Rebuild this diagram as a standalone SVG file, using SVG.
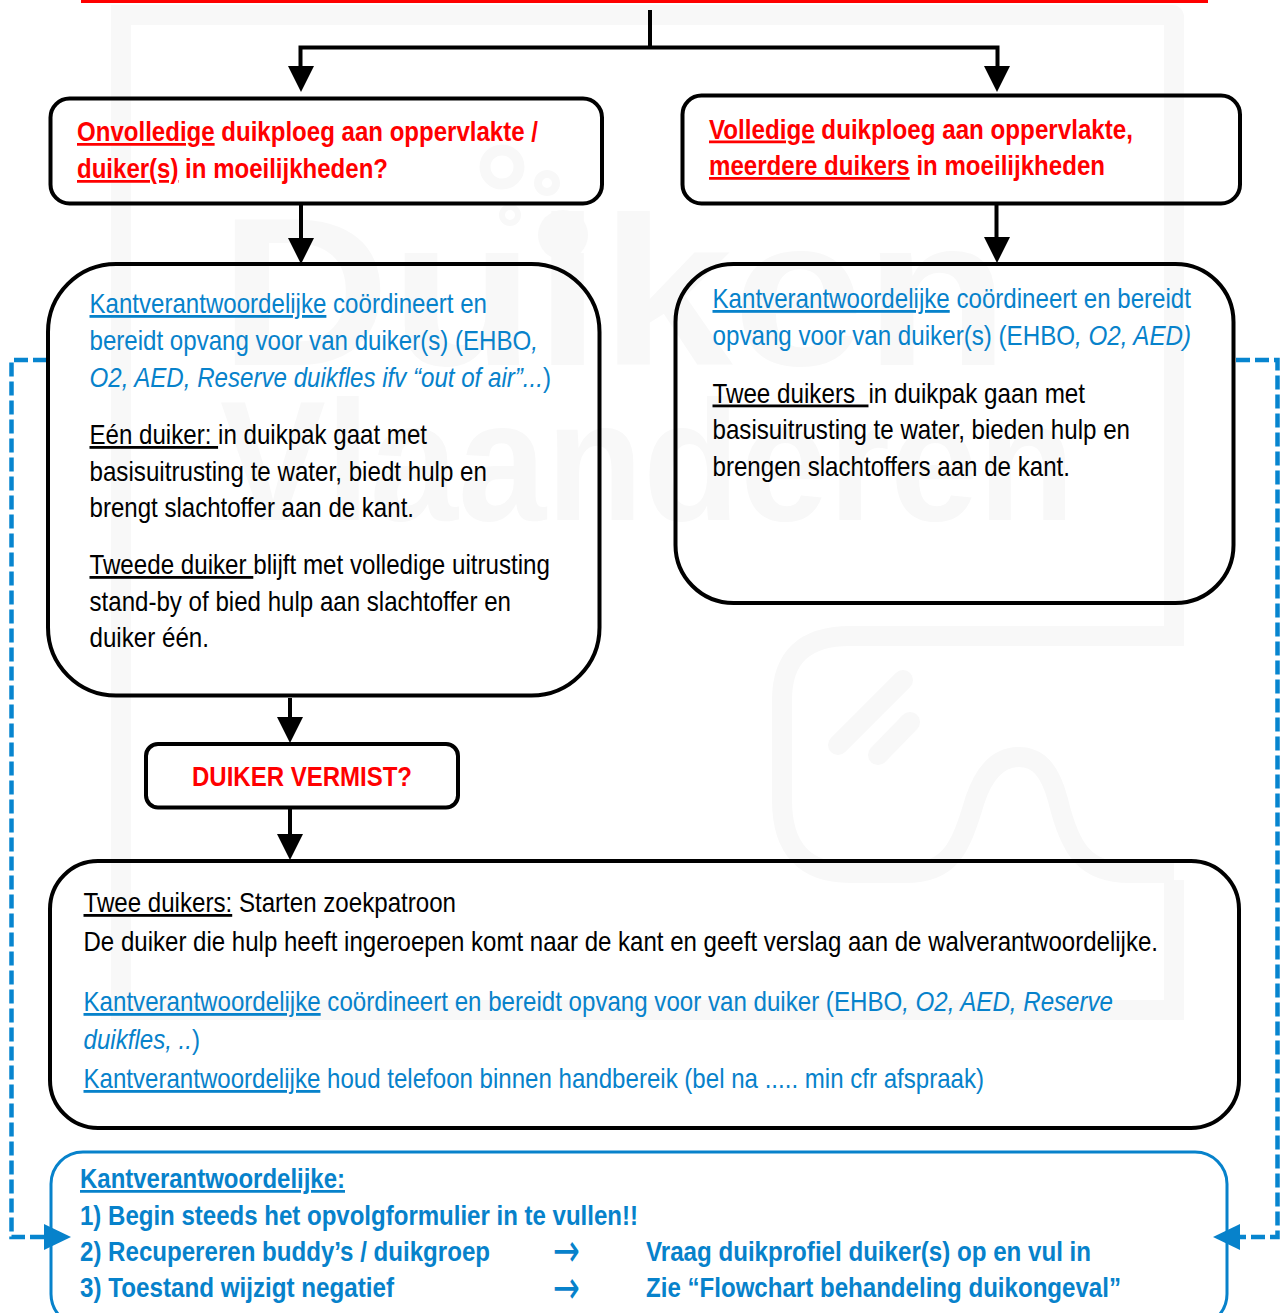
<svg xmlns="http://www.w3.org/2000/svg" width="1280" height="1313" viewBox="0 0 1280 1313">
<style>
text{font-family:"Liberation Sans",Arial,sans-serif;font-size:28px;white-space:pre}
.b{font-weight:700;font-size:27.5px}
.red{fill:#f00}
.blue{fill:#0782cb}
.blk{fill:#000}
.u{text-decoration:underline;text-decoration-thickness:2.5px}
.i{font-style:italic}
.box{fill:none;stroke:#000;stroke-width:4}
.wm{fill:none;stroke:#f8f8f8;stroke-width:20}
.wt{fill:#f8f8f8;font-size:212px;font-weight:700}
.wv{font-size:170px}
.c1{stroke-width:11}
.c2{stroke-width:8}
.c3{stroke-width:6}
.con{fill:none;stroke:#000;stroke-width:4}
.dash{fill:none;stroke:#0785cf;stroke-width:4.500;stroke-dasharray:14 5}
.ar{font-family:"DejaVu Sans",sans-serif;font-size:46px}
</style>
<defs>
<polygon id="ah" points="-13,-26 13,-26 0,0" fill="#000"/>
</defs>
<rect width="1280" height="1313" fill="#fff"/>
<g id="watermark">
<path class="wm" d="M850 636H1174V17Q1174 15 1172 15H121V1010H1174V880"/>
<path class="wm" d="M850 636Q782 636 782 700V800Q782 873 850 873H905C950 873 960 850 975 800C985 770 1000 757 1019 757C1038 757 1050 770 1058 800C1070 850 1085 873 1130 873H1174"/>
<path class="wm" d="M903 680L838 745M910 722L878 755" stroke-linecap="round"/>
<circle class="wm c1" cx="502" cy="167" r="17"/>
<circle class="wm c2" cx="547" cy="183" r="9"/>
<circle class="wm c3" cx="510" cy="215" r="8"/>
<circle cx="563" cy="235" r="25" fill="#f8f8f8"/>
<text class="wt" x="219" y="365" textLength="790" lengthAdjust="spacingAndGlyphs">Duiken</text>
<text class="wt wv" x="220" y="520" textLength="855" lengthAdjust="spacingAndGlyphs">Vlaanderen</text>
</g>
<rect id="topbar" x="81" y="0" width="1127" height="3" fill="#f00"/>
<g id="connectors">
<path class="con" d="M650 10V49M300.500 68V47.500H997.500V68"/>
<use href="#ah" x="301" y="92"/><use href="#ah" x="997" y="92"/>
<path class="con" d="M301 205V240M996.500 205V240M290 698V720M290 809V836"/>
<use href="#ah" x="301" y="264"/><use href="#ah" x="997" y="263"/>
<use href="#ah" x="290" y="743"/><use href="#ah" x="290" y="860"/>
<path class="dash" d="M47 360H11.500V1237H46"/>
<path class="dash" d="M1236 360H1277.500V1237H1238"/>
<polygon points="44,1224 71,1237 44,1250" fill="#0782cb"/>
<polygon points="1240,1224 1213,1237 1240,1250" fill="#0782cb"/>
</g>
<g id="n1">
<rect class="box" x="50.500" y="98.500" width="551.500" height="105" rx="19"/>
<text class="b red" x="77" y="141" textLength="461" lengthAdjust="spacingAndGlyphs"><tspan class="u">Onvolledige</tspan> duikploeg aan oppervlakte /</text>
<text class="b red" x="77" y="178" textLength="311" lengthAdjust="spacingAndGlyphs"><tspan class="u">duiker(s)</tspan> in moeilijkheden?</text>
</g>
<g id="n2">
<rect class="box" x="682.500" y="95.500" width="557.500" height="108" rx="19"/>
<text class="b red" x="709" y="138.500" textLength="424" lengthAdjust="spacingAndGlyphs"><tspan class="u">Volledige</tspan> duikploeg aan oppervlakte,</text>
<text class="b red" x="709" y="175" textLength="396" lengthAdjust="spacingAndGlyphs"><tspan class="u">meerdere duikers</tspan> in moeilijkheden</text>
</g>
<g id="n3">
<rect class="box" x="48" y="264" width="551.500" height="431.500" rx="68"/>
<text class="blue" x="89.500" y="313" textLength="397.500" lengthAdjust="spacingAndGlyphs"><tspan class="u">Kantverantwoordelijke</tspan> coördineert en</text>
<text class="blue" x="89.500" y="350" textLength="448.500" lengthAdjust="spacingAndGlyphs">bereidt opvang voor van duiker(s) (EHBO<tspan class="i">,</tspan></text>
<text class="blue" x="89.500" y="387" textLength="461.500" lengthAdjust="spacingAndGlyphs"><tspan class="i">O2, AED, Reserve duikfles ifv “out of air”...</tspan>)</text>
<text class="blk" x="89.500" y="444" textLength="337.500" lengthAdjust="spacingAndGlyphs"><tspan class="u">Eén duiker: </tspan>in duikpak gaat met</text>
<text class="blk" x="89.500" y="480.500" textLength="397.500" lengthAdjust="spacingAndGlyphs">basisuitrusting te water, biedt hulp en</text>
<text class="blk" x="89.500" y="517" textLength="324.500" lengthAdjust="spacingAndGlyphs">brengt slachtoffer aan de kant.</text>
<text class="blk" x="89.500" y="574" textLength="460.500" lengthAdjust="spacingAndGlyphs"><tspan class="u">Tweede duiker </tspan>blijft met volledige uitrusting</text>
<text class="blk" x="89.500" y="610.500" textLength="421.500" lengthAdjust="spacingAndGlyphs">stand-by of bied hulp aan slachtoffer en</text>
<text class="blk" x="89.500" y="647" textLength="119.500" lengthAdjust="spacingAndGlyphs">duiker één.</text>
</g>
<g id="n4">
<rect class="box" x="675.500" y="264" width="558" height="339" rx="58"/>
<text class="blue" x="712.500" y="308" textLength="478.500" lengthAdjust="spacingAndGlyphs"><tspan class="u">Kantverantwoordelijke</tspan> coördineert en bereidt</text>
<text class="blue" x="712.500" y="345" textLength="478.500" lengthAdjust="spacingAndGlyphs">opvang voor van duiker(s) (EHBO<tspan class="i">, O2, AED)</tspan></text>
<text class="blk" x="712.500" y="402.500" textLength="372.500" lengthAdjust="spacingAndGlyphs"><tspan class="u">Twee duikers&#160; </tspan>in duikpak gaan met</text>
<text class="blk" x="712.500" y="439" textLength="417.500" lengthAdjust="spacingAndGlyphs">basisuitrusting te water, bieden hulp en</text>
<text class="blk" x="712.500" y="476" textLength="357.500" lengthAdjust="spacingAndGlyphs">brengen slachtoffers aan de kant.</text>
</g>
<g id="n5">
<rect class="box" x="146" y="744" width="312" height="63.500" rx="12"/>
<text class="b red" x="192" y="785.500" textLength="220" lengthAdjust="spacingAndGlyphs">DUIKER VERMIST?</text>
</g>
<g id="n6">
<rect class="box" x="50" y="861" width="1189" height="267" rx="48"/>
<text class="blk" x="83.500" y="912" textLength="372.500" lengthAdjust="spacingAndGlyphs"><tspan class="u">Twee duikers:</tspan> Starten zoekpatroon</text>
<text class="blk" x="83.500" y="951" textLength="1074.500" lengthAdjust="spacingAndGlyphs">De duiker die hulp heeft ingeroepen komt naar de kant en geeft verslag aan de walverantwoordelijke.</text>
<text class="blue" x="83.500" y="1011" textLength="1029.500" lengthAdjust="spacingAndGlyphs"><tspan class="u">Kantverantwoordelijke</tspan> coördineert en bereidt opvang voor van duiker (EHBO<tspan class="i">, O2, AED, Reserve</tspan></text>
<text class="blue" x="83.500" y="1049" textLength="116.500" lengthAdjust="spacingAndGlyphs"><tspan class="i">duikfles, ..</tspan>)</text>
<text class="blue" x="83.500" y="1088" textLength="900.500" lengthAdjust="spacingAndGlyphs"><tspan class="u">Kantverantwoordelijke</tspan> houd telefoon binnen handbereik (bel na ..... min cfr afspraak)</text>
</g>
<g id="n7">
<rect x="51" y="1152" width="1176" height="174" rx="32" fill="none" stroke="#0782cb" stroke-width="3"/>
<text class="b blue u" x="80" y="1188" textLength="265" lengthAdjust="spacingAndGlyphs">Kantverantwoordelijke:</text>
<text class="b blue" x="80" y="1224.500" textLength="558" lengthAdjust="spacingAndGlyphs">1) Begin steeds het opvolgformulier in te vullen!!</text>
<text class="b blue" x="80" y="1260.500" textLength="410" lengthAdjust="spacingAndGlyphs">2) Recupereren buddy’s / duikgroep</text>
<text class="b blue" x="80" y="1297" textLength="314" lengthAdjust="spacingAndGlyphs">3) Toestand wijzigt negatief</text>
<text class="blue ar" x="553" y="1266" textLength="27" lengthAdjust="spacingAndGlyphs">→</text>
<text class="blue ar" x="553" y="1302.500" textLength="27" lengthAdjust="spacingAndGlyphs">→</text>
<text class="b blue" x="646" y="1260.500" textLength="445" lengthAdjust="spacingAndGlyphs">Vraag duikprofiel duiker(s) op en vul in</text>
<text class="b blue" x="646" y="1297" textLength="475" lengthAdjust="spacingAndGlyphs">Zie “Flowchart behandeling duikongeval”</text>
</g>
</svg>
